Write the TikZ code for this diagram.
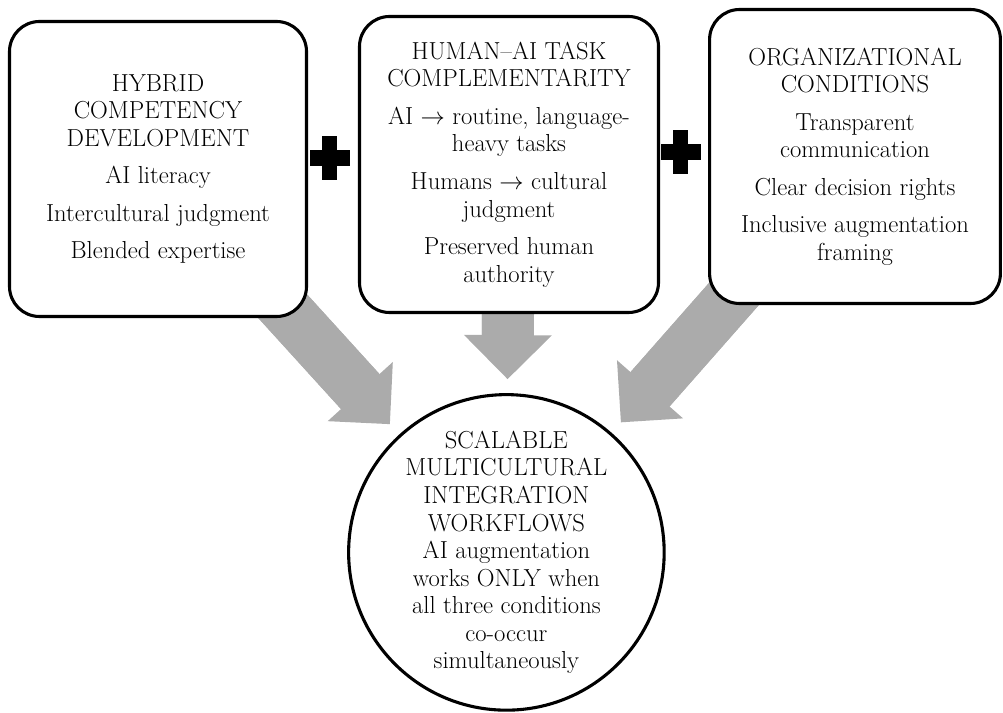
\documentclass[tikz,border=0pt]{standalone}
\usepackage{amsmath}
\usepackage{tikz}
\usetikzlibrary{positioning, calc, arrows.meta, backgrounds}
\definecolor{FlowGray}{HTML}{ABABAB}

\tikzset{
  catbox/.style={draw=black, line width=2.2pt, rounded corners=0.75cm, fill=white,
    align=center, inner sep=0pt, font=\fontsize{17.5}{19.6}\selectfont},
  goalcircle/.style={circle, draw=black, line width=2.2pt, fill=white,
    align=center, inner sep=0pt, minimum size=7.825cm, font=\fontsize{17.5}{19.6}\selectfont},
  flowarrow/.style={FlowGray, line width=1.3cm, shorten >=0.35cm,
    -{Triangle[width=2.2cm, length=1.1cm, line width=0pt]},
    preaction={draw=FlowGray, line width=1.3cm, shorten >=1.3cm, arrows=-}}
}

\begin{document}
\begin{tikzpicture}
      \useasboundingbox (0,0) rectangle (25.075,17.8);
      %% Three condition boxes
      \node[catbox, minimum width=7.425cm, minimum height=7.375cm] (hybrid) at (3.95,13.575)
        {HYBRID\\COMPETENCY\\DEVELOPMENT\\[0.25cm]AI literacy\\[0.25cm]Intercultural judgment\\[0.25cm]Blended expertise};
      \node[catbox, minimum width=7.475cm, minimum height=7.4cm] (human) at (12.725,13.6875)
        {HUMAN--AI TASK\\COMPLEMENTARITY\\[0.25cm]AI $\rightarrow$ routine, language-\\heavy tasks\\[0.25cm]Humans $\rightarrow$ cultural\\judgment\\[0.25cm]Preserved human\\authority};
      \node[catbox, minimum width=7.27cm, minimum height=7.35cm] (orgcond) at (21.375,13.8875)
        {ORGANIZATIONAL\\CONDITIONS\\[0.25cm]Transparent\\communication\\[0.25cm]Clear decision rights\\[0.25cm]Inclusive augmentation\\framing};
      %% Outcome circle
      \node[goalcircle] (goal) at (12.66,3.99)
        {SCALABLE\\MULTICULTURAL\\INTEGRATION\\WORKFLOWS\\AI augmentation\\works ONLY when\\all three conditions\\co-occur\\simultaneously};
      %% Plus signs between boxes
      \foreach \px/\py in {8.25/13.85, 17.025/14.0} {
        \fill[black] (\px-0.5,\py-0.2) rectangle ++(1.0,0.4);
        \fill[black] (\px-0.19,\py-0.55) rectangle ++(0.375,1.1);
      }
      %% Grey arrows into the circle
      \begin{scope}[on background layer]
        \draw[flowarrow] (hybrid.center) -- (goal);
        \draw[flowarrow] (human.center) -- (goal);
        \draw[flowarrow] (orgcond.center) -- (goal);
      \end{scope}
    \end{tikzpicture}
\end{document}
